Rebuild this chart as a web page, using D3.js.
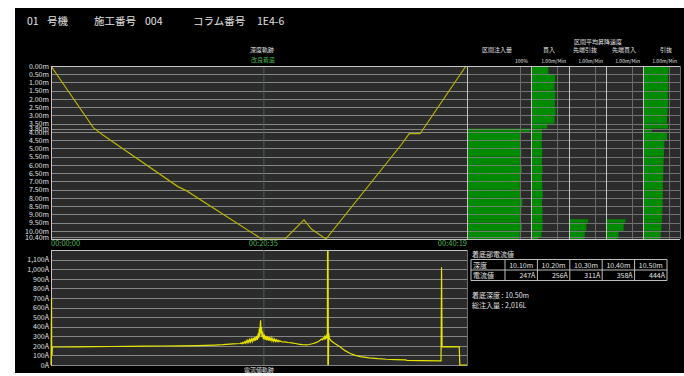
<!DOCTYPE html>
<html>
<head>
<meta charset="utf-8">
<script src="https://cdn.jsdelivr.net/npm/d3@7"></script>
<style>
  html, body { margin: 0; padding: 0; background: #fff; }
  svg { display: block; }
  text { font-family: "Noto Sans CJK JP", "Noto Sans", sans-serif; }
</style>
</head>
<body>
<svg id="chart" width="684" height="376"></svg>
<script>
// ---- header ----
const titleParts = ["01", "号機", "施工番号", "004", "コラム番号", "1E4-6"];

// ---- depth track (seconds from start, metres) ----
const depthTicks = [0, 0.5, 1, 1.5, 2, 2.5, 3, 3.5, 3.8, 4, 4.5, 5, 5.5, 6, 6.5, 7, 7.5, 8, 8.5, 9, 9.5, 10, 10.4];
const timeTicks = [0, 1235, 2419];
const timeLabels = ["00:00:00", "00:20:35", "00:40:19"];
const landingTime = 1235;
const depthTime  = [0, 246, 302, 738, 789, 1225, 1361, 1471, 1516, 1599, 2039, 2083, 2146, 2413];
const depthValue = [0, 3.74, 4.19, 7.32, 7.58, 10.5, 10.5, 9.34, 9.91, 10.5, 4.75, 4.11, 4.11, 0];

// ---- motor current track (seconds, A) ----
const ampTicks = [0, 100, 200, 300, 400, 500, 600, 700, 800, 900, 1000, 1100];
const currentTime = [
  0, 3, 4, 6, 8, 60, 150, 250, 350, 450, 550, 650, 750, 850, 950, 1000, 1040, 1060, 1080,
  1100, 1105, 1110, 1115, 1120, 1125, 1130, 1135, 1140, 1145, 1150, 1155, 1160, 1165, 1170,
  1175, 1180, 1185, 1190, 1195, 1200, 1205, 1208, 1211, 1214, 1217, 1219, 1221, 1224, 1227,
  1230, 1235, 1240, 1245, 1250, 1255, 1260, 1265, 1270, 1275, 1280, 1285, 1290, 1295, 1300,
  1305, 1310, 1315, 1320, 1325, 1330, 1345, 1360, 1380, 1400, 1420, 1440, 1460, 1487,
  1500, 1520, 1540, 1555, 1565, 1572, 1578, 1583, 1588, 1592, 1596, 1600, 1604, 1607,
  1608, 1610, 1611, 1613, 1615, 1618, 1622, 1630, 1650, 1680, 1710, 1740, 1770, 1800,
  1850, 1900, 1950, 2000, 2060, 2070, 2150, 2268, 2271, 2274, 2300, 2374, 2377, 2419
];
const currentAmp = [
  0, 700, 120, 100, 190, 188, 190, 192, 193, 195, 196, 198, 200, 203, 208, 212, 218, 220, 222,
  224, 230, 222, 236, 226, 242, 228, 252, 232, 258, 236, 266, 240, 272, 244,
  282, 248, 290, 255, 305, 262, 330, 280, 380, 300, 430, 466, 330, 400, 290,
  350, 270, 320, 262, 305, 258, 298, 255, 290, 252, 284, 250, 276, 248, 270,
  246, 264, 244, 258, 242, 252, 240, 242, 235, 230, 224, 218, 213, 210,
  214, 222, 234, 246, 258, 270, 262, 284, 270, 296, 278, 305, 285, 300,
  1190, 0, 1190, 0, 330, 285, 270, 250, 225, 190, 150, 120, 100, 88,
  75, 66, 60, 56, 53, 48, 46, 44, 1020, 190, 192, 190, 0, 0
];

// ---- interval bars (depth bins, metres) ----
const binEdges = [0, 0.5, 1, 1.5, 2, 2.5, 3, 3.5, 3.8, 4, 4.5, 5, 5.5, 6, 6.5, 7, 7.5, 8, 8.5, 9, 9.3, 9.5, 10, 10.4, 10.5];
const injectionPct        = [0, 0, 0, 0, 0, 0, 0, 0, 118, 101, 100, 102, 101, 103, 100, 99, 101, 104, 102, 100, 101, 103, 99, 98];
const penetrationSpeed    = [0.66, 0.92, 0.90, 0.93, 0.91, 0.94, 0.90, 0.62, 0.42, 0.42, 0.41, 0.43, 0.42, 0.44, 0.42, 0.43, 0.45, 0.42, 0.44, 0.43, 0.45, 0.44, 0.40, 0.27];
const tipWithdrawSpeed    = [0, 0, 0, 0, 0, 0, 0, 0, 0, 0, 0, 0, 0, 0, 0, 0, 0, 0, 0, 0, 0.75, 0.68, 0.62, 0.60];
const tipPenetrationSpeed = [0, 0, 0, 0, 0, 0, 0, 0, 0, 0, 0, 0, 0, 0, 0, 0, 0, 0, 0, 0, 0.76, 0.69, 0.49, 0.45];
const withdrawSpeed       = [1.00, 0.98, 0.99, 0.97, 0.98, 0.96, 0.94, 0.98, 0.35, 0.94, 0.84, 0.82, 0.81, 0.80, 0.79, 0.78, 0.78, 0.77, 0.76, 0.75, 0.74, 0.72, 0.70, 0.68];
const columnNames = ["区間注入量", "貫入", "先端引抜", "先端貫入", "引抜"];
const columnUnits = ["100%", "1.00m/Min", "1.00m/Min", "1.00m/Min", "1.00m/Min"];

// ---- landing current table ----
const tableDepths = ["10.10m", "10.20m", "10.30m", "10.40m", "10.50m"];
const tableCurrents = [247, 256, 311, 358, 444];
const landingDepth = "10.50m";
const totalInjection = "2,016L";

// ================= drawing =================
const svg = d3.select("#chart");
const TXT = "#e0e0e0", GRID = "#858585", BORDER = "#c4c4c4", PLOT_BG = "#2b2b2b";
const GREEN_TXT = "#4fae4f", MARKER = "#4d5e4d", BAR = "#008a00";

svg.append("rect").attr("x", 15).attr("y", 8).attr("width", 669).attr("height", 365).attr("fill", "#000");

// header
const titleX = [27, 47, 94, 145, 193, 257];
svg.selectAll("text.title").data(titleParts).join("text")
  .attr("class", "title")
  .attr("x", (d, i) => titleX[i]).attr("y", 25)
  .attr("font-size", 10.5).attr("fill", TXT)
  .text(d => d);

// scales
const x = d3.scaleLinear().domain([0, 2419]).range([51, 467]);
const yDepth = d3.scaleLinear().domain([0, 10.5]).range([66, 239]);
const yAmp = d3.scaleLinear().domain([0, 1200]).range([365, 250]);

// ---------- depth plot ----------
svg.append("rect").attr("x", 51).attr("y", 66).attr("width", 629).attr("height", 173).attr("fill", PLOT_BG);
svg.append("g").selectAll("line").data(depthTicks).join("line")
  .attr("x1", 51).attr("x2", 467)
  .attr("y1", d => Math.round(yDepth(d)) + 0.5).attr("y2", d => Math.round(yDepth(d)) + 0.5)
  .attr("stroke", GRID).attr("stroke-width", 1);

const depthAxis = d3.axisLeft(yDepth).tickValues(depthTicks)
  .tickFormat(d => d3.format(".2f")(d) + "m").tickSize(0).tickPadding(2);
svg.append("g").attr("transform", "translate(51,0)").call(depthAxis)
  .call(g => g.select(".domain").remove())
  .call(g => g.selectAll("text").attr("fill", TXT).attr("font-size", 7)
    .attr("font-family", "\"Noto Sans CJK JP\", sans-serif"));

svg.append("line").attr("x1", x(landingTime) + 0.5).attr("x2", x(landingTime) + 0.5)
  .attr("y1", 66).attr("y2", 239).attr("stroke", MARKER);

const depthLine = d3.line().x((d, i) => x(depthTime[i])).y(d => yDepth(d));
svg.append("path").datum(depthValue).attr("d", depthLine)
  .attr("fill", "none").attr("stroke", "#b9b400").attr("stroke-width", 1.2);

// time labels
svg.selectAll("text.time").data(timeTicks).join("text")
  .attr("class", "time")
  .attr("x", d => x(d)).attr("y", 246)
  .attr("text-anchor", (d, i) => i === 0 ? "start" : (i === 2 ? "end" : "middle"))
  .attr("font-size", 7.5).attr("fill", GREEN_TXT)
  .text((d, i) => timeLabels[i]);

svg.append("text").attr("x", 262).attr("y", 52).attr("text-anchor", "middle")
  .attr("font-size", 6).attr("fill", TXT).text("深度軌跡");
svg.append("text").attr("x", 263).attr("y", 62).attr("text-anchor", "middle")
  .attr("font-size", 6).attr("fill", GREEN_TXT).text("改良着底");

// ---------- interval bar panel ----------
const cols = [
  { x0: 467, w: 64, max: 120, ref: 100, values: injectionPct },
  { x0: 531, w: 38, max: 1.45, ref: 1, values: penetrationSpeed },
  { x0: 569, w: 37, max: 1.45, ref: 1, values: tipWithdrawSpeed },
  { x0: 606, w: 37, max: 1.45, ref: 1, values: tipPenetrationSpeed },
  { x0: 643, w: 37, max: 1.45, ref: 1, values: withdrawSpeed }
];

const barLayer = svg.append("g");
cols.forEach(c => {
  const sx = d3.scaleLinear().domain([0, c.max]).range([c.x0, c.x0 + c.w]);
  c.sx = sx;
  barLayer.selectAll(null).data(c.values.map((v, i) => ({ v, i })).filter(d => d.v > 0)).join("rect")
    .attr("x", c.x0 + 1)
    .attr("y", d => yDepth(binEdges[d.i]))
    .attr("width", d => sx(d.v) - c.x0 - 1)
    .attr("height", d => yDepth(binEdges[d.i + 1]) - yDepth(binEdges[d.i]))
    .attr("fill", BAR);
});
// gridlines drawn over the bars
barLayer.selectAll("line.h").data(depthTicks).join("line")
  .attr("x1", 467).attr("x2", 680)
  .attr("y1", d => Math.round(yDepth(d)) + 0.5).attr("y2", d => Math.round(yDepth(d)) + 0.5)
  .attr("stroke", GRID).attr("stroke-opacity", 0.8);
cols.forEach(c => {
  barLayer.append("line").attr("x1", Math.round(c.sx(c.ref)) + 0.5).attr("x2", Math.round(c.sx(c.ref)) + 0.5)
    .attr("y1", 66).attr("y2", 239).attr("stroke", "#6a6a6a");
  barLayer.append("line").attr("x1", c.x0 + 0.5).attr("x2", c.x0 + 0.5)
    .attr("y1", 66).attr("y2", 239).attr("stroke", BORDER);
});
barLayer.append("line").attr("x1", 680.5).attr("x2", 680.5).attr("y1", 66).attr("y2", 239).attr("stroke", "#6a6a6a");

// outer borders of the upper area
svg.append("line").attr("x1", 51).attr("x2", 680).attr("y1", 66.5).attr("y2", 66.5).attr("stroke", BORDER);
svg.append("line").attr("x1", 51).attr("x2", 680).attr("y1", 239.5).attr("y2", 239.5).attr("stroke", BORDER);
svg.append("line").attr("x1", 51.5).attr("x2", 51.5).attr("y1", 66).attr("y2", 240).attr("stroke", BORDER);

const headerX = [497, 549, 585, 624, 666];
svg.selectAll("text.colname").data(columnNames).join("text")
  .attr("class", "colname")
  .attr("x", (d, i) => headerX[i]).attr("y", 52).attr("text-anchor", "middle")
  .attr("font-size", 6).attr("fill", TXT).text(d => d);
svg.append("text").attr("x", 598).attr("y", 44).attr("text-anchor", "middle")
  .attr("font-size", 6).attr("fill", TXT).text("区間平均昇降速度");
svg.selectAll("text.unit").data(columnUnits).join("text")
  .attr("class", "unit")
  .attr("x", (d, i) => cols[i].x0 + cols[i].w - 3).attr("y", 63).attr("text-anchor", "end")
  .attr("font-size", 5).attr("fill", TXT).text(d => d);

// ---------- current plot ----------
svg.append("rect").attr("x", 51).attr("y", 250).attr("width", 416).attr("height", 115).attr("fill", PLOT_BG);
svg.append("g").selectAll("line").data(ampTicks).join("line")
  .attr("x1", 51).attr("x2", 467)
  .attr("y1", d => Math.round(yAmp(d)) + 0.5).attr("y2", d => Math.round(yAmp(d)) + 0.5)
  .attr("stroke", GRID);
svg.append("line").attr("x1", 51).attr("x2", 467).attr("y1", 250.5).attr("y2", 250.5).attr("stroke", BORDER);
svg.append("line").attr("x1", 51.5).attr("x2", 51.5).attr("y1", 250).attr("y2", 366).attr("stroke", BORDER);
svg.append("line").attr("x1", 467.5).attr("x2", 467.5).attr("y1", 250).attr("y2", 366).attr("stroke", "#6a6a6a");

const ampAxis = d3.axisLeft(yAmp).tickValues(ampTicks)
  .tickFormat(d => d3.format(",")(d) + "A").tickSize(0).tickPadding(2);
svg.append("g").attr("transform", "translate(51,0)").call(ampAxis)
  .call(g => g.select(".domain").remove())
  .call(g => g.selectAll("text").attr("fill", TXT).attr("font-size", 7)
    .attr("font-family", "\"Noto Sans CJK JP\", sans-serif"));

svg.append("line").attr("x1", x(landingTime) + 0.5).attr("x2", x(landingTime) + 0.5)
  .attr("y1", 250).attr("y2", 365).attr("stroke", MARKER);

const ampLine = d3.line().x((d, i) => x(currentTime[i])).y(d => yAmp(d));
svg.append("path").datum(currentAmp).attr("d", ampLine)
  .attr("fill", "none").attr("stroke", "#e8e400").attr("stroke-width", 1.2);

svg.append("text").attr("x", 259).attr("y", 371.5).attr("text-anchor", "middle")
  .attr("font-size", 6).attr("fill", TXT).text("電流値軌跡");

// ---------- landing current table ----------
svg.append("text").attr("x", 472).attr("y", 257).attr("font-size", 7).attr("fill", TXT).text("着底部電流値");
const colEdges = [471, 505, 537.4, 569.8, 602.2, 634.6, 667];
const rowEdges = [259.5, 270, 280.5];
const tbl = svg.append("g");
rowEdges.forEach(r => tbl.append("line").attr("x1", 471).attr("x2", 667).attr("y1", r).attr("y2", r).attr("stroke", "#bdbdbd"));
colEdges.forEach(c => tbl.append("line").attr("x1", c).attr("x2", c).attr("y1", 259.5).attr("y2", 280.5).attr("stroke", "#bdbdbd"));
tbl.append("text").attr("x", 473).attr("y", 267.5).attr("font-size", 7).attr("fill", TXT).text("深度");
tbl.append("text").attr("x", 473).attr("y", 278).attr("font-size", 7).attr("fill", TXT).text("電流値");
tbl.selectAll("text.d").data(tableDepths).join("text").attr("class", "d")
  .attr("x", (d, i) => (colEdges[i + 1] + colEdges[i + 2]) / 2).attr("y", 267.5)
  .attr("text-anchor", "middle").attr("font-size", 7).attr("fill", TXT).text(d => d);
tbl.selectAll("text.v").data(tableCurrents).join("text").attr("class", "v")
  .attr("x", (d, i) => colEdges[i + 2] - 2).attr("y", 278)
  .attr("text-anchor", "end").attr("font-size", 7).attr("fill", TXT).text(d => d + "A");

svg.append("text").attr("x", 472).attr("y", 297.5).attr("font-size", 7).attr("fill", TXT).text("着底深度 : " + landingDepth);
svg.append("text").attr("x", 472).attr("y", 307.5).attr("font-size", 7).attr("fill", TXT).text("総注入量 : " + totalInjection);
</script>
</body>
</html>
